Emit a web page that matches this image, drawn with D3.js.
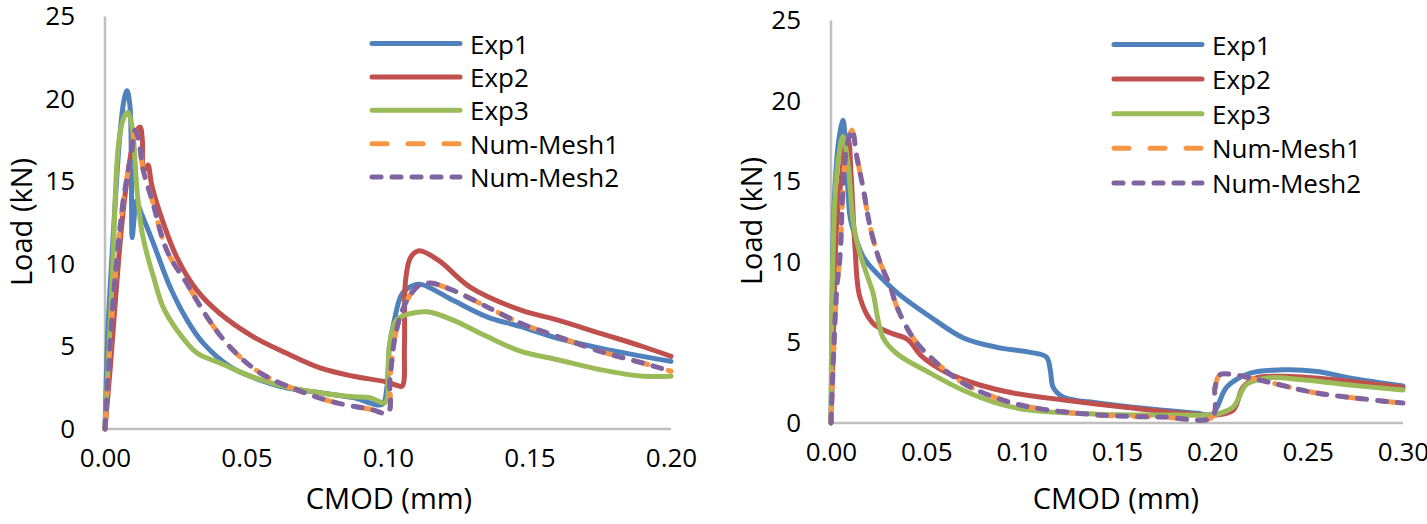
<!DOCTYPE html>
<html><head><meta charset="utf-8">
<script src="https://cdn.jsdelivr.net/npm/d3@7"></script>
<style>
html,body{margin:0;padding:0;background:#fff;}
svg{display:block;}
text{font-family:"Open Sans",sans-serif;fill:#000;}
</style></head>
<body>
<svg id="c" width="1427" height="524"></svg>
<script>
// ---------- DATA ----------
const seriesNames = ["Exp1","Exp2","Exp3","Num-Mesh1","Num-Mesh2"];
const yTicks = [0,5,10,15,20,25];
const xTicksLeft = [0,0.05,0.10,0.15,0.20];
const xTicksRight = [0,0.05,0.10,0.15,0.20,0.25,0.30];

const leftExp1 = [[0,0],[0.001,5.8],[0.003,12],[0.0053,17.9],[0.0068,20.0],[0.0078,20.5],[0.0088,19.6],[0.0093,16.5],[0.0096,11.6],[0.0102,12.6],[0.0110,13.8],[0.013,13.0],[0.017,11.3],[0.023,8.6],[0.029,6.6],[0.0347,5.2],[0.044,3.8],[0.052,3.15],[0.064,2.5],[0.076,2.2],[0.0877,1.9],[0.098,1.5],[0.0996,2.5],[0.1005,5.0],[0.102,6.4],[0.105,8.2],[0.109,8.7],[0.112,8.75],[0.123,7.8],[0.135,6.8],[0.147,6.2],[0.16,5.5],[0.175,4.9],[0.19,4.4],[0.2,4.1]];
const leftExp2 = [[0,0],[0.002,4],[0.004,8.5],[0.006,12.5],[0.0077,15],[0.0095,17],[0.011,18.0],[0.0124,18.3],[0.0132,17.5],[0.0136,15.7],[0.0145,15.8],[0.0152,16.0],[0.0165,14.8],[0.0194,13.1],[0.0254,10.4],[0.0325,8.4],[0.0406,7.0],[0.0523,5.6],[0.064,4.6],[0.076,3.7],[0.0877,3.2],[0.0995,2.85],[0.103,2.65],[0.105,2.6],[0.1058,5.0],[0.1062,9.0],[0.108,10.4],[0.111,10.8],[0.118,10.2],[0.129,8.6],[0.147,7.2],[0.16,6.6],[0.175,5.8],[0.19,5.0],[0.2,4.4]];
const leftExp3 = [[0,0],[0.001,3.5],[0.002,7],[0.003,11],[0.004,15.5],[0.005,17.6],[0.0065,18.8],[0.008,19.2],[0.0095,18.4],[0.0113,14.5],[0.013,12.0],[0.015,10.5],[0.017,9.3],[0.0205,7.4],[0.0254,6.0],[0.0325,4.6],[0.0406,4.0],[0.0523,3.15],[0.064,2.55],[0.076,2.2],[0.0877,1.95],[0.0936,1.9],[0.099,1.6],[0.1,3.5],[0.1005,5.0],[0.103,6.6],[0.108,7.0],[0.114,7.1],[0.123,6.6],[0.135,5.6],[0.147,4.7],[0.16,4.2],[0.175,3.6],[0.19,3.2],[0.2,3.2]];
const leftMesh1 = [[0,0],[0.0006,1.8],[0.0029,7.8],[0.0065,13.9],[0.0095,16.9],[0.0106,18.1],[0.0118,17.6],[0.0135,15.7],[0.0166,13.9],[0.0219,10.8],[0.029,8.8],[0.036,6.8],[0.044,5.0],[0.0548,3.4],[0.068,2.36],[0.0806,1.64],[0.0936,1.2],[0.1,1.0],[0.1007,3.0],[0.103,6.0],[0.1067,7.8],[0.111,8.7],[0.115,8.85],[0.123,8.4],[0.135,7.4],[0.147,6.4],[0.16,5.6],[0.175,4.7],[0.19,4.0],[0.2,3.5]];
const leftMesh2 = [[0,0],[0.0006,1.8],[0.0029,7.8],[0.0065,13.9],[0.0095,16.9],[0.0106,18.1],[0.0118,17.6],[0.0135,15.7],[0.0166,13.9],[0.0219,10.8],[0.029,8.8],[0.036,6.8],[0.044,5.0],[0.0548,3.4],[0.068,2.36],[0.0806,1.64],[0.0936,1.2],[0.1,1.0],[0.1007,3.0],[0.103,6.0],[0.1067,7.8],[0.111,8.7],[0.115,8.85],[0.123,8.4],[0.135,7.4],[0.147,6.4],[0.16,5.6],[0.175,4.7],[0.19,4.0],[0.2,3.5]];

const rightExp1 = [[0,0],[0.0005,6],[0.001,11],[0.002,14.5],[0.004,17.5],[0.0063,18.8],[0.0075,17.5],[0.0084,15.5],[0.01,12.8],[0.0117,12.0],[0.017,10.3],[0.0257,9.1],[0.0346,8.1],[0.052,6.6],[0.0692,5.3],[0.087,4.7],[0.104,4.4],[0.113,4.1],[0.115,3.3],[0.1166,2.2],[0.122,1.6],[0.14,1.24],[0.157,1.0],[0.174,0.8],[0.192,0.6],[0.2,0.55],[0.2077,2.25],[0.22,3.1],[0.237,3.3],[0.255,3.2],[0.272,2.8],[0.3,2.3]];
const rightExp2 = [[0,0],[0.001,4],[0.003,12.4],[0.0057,15.5],[0.0075,17.3],[0.009,17.6],[0.0105,15.5],[0.0126,10.9],[0.0152,7.8],[0.022,6.2],[0.031,5.6],[0.04,5.2],[0.048,4.1],[0.061,3.1],[0.078,2.36],[0.0955,1.86],[0.122,1.43],[0.158,0.93],[0.185,0.6],[0.202,0.5],[0.211,0.8],[0.216,2.2],[0.223,2.8],[0.237,2.9],[0.263,2.7],[0.3,2.2]];
const rightExp3 = [[0,0],[0.001,10.3],[0.003,15.5],[0.0063,17.8],[0.009,16],[0.0117,12.4],[0.015,10.6],[0.02,8.8],[0.022,8.1],[0.0273,5.3],[0.0346,4.3],[0.052,3.1],[0.069,2.05],[0.087,1.24],[0.104,0.8],[0.14,0.55],[0.174,0.5],[0.2,0.5],[0.2025,0.55],[0.211,1.0],[0.218,2.4],[0.229,2.8],[0.246,2.7],[0.272,2.36],[0.3,2.05]];
const rightMesh1 = [[0,0],[0.003,8.3],[0.0047,10.3],[0.0063,14.5],[0.0085,17.3],[0.011,18.2],[0.0136,16.5],[0.017,14.5],[0.0205,12.2],[0.0257,10.0],[0.031,8.5],[0.0346,7.2],[0.043,5.3],[0.052,4.1],[0.069,2.5],[0.087,1.55],[0.104,1.0],[0.14,0.5],[0.174,0.37],[0.2,0.37],[0.2014,2.2],[0.204,3.0],[0.211,3.0],[0.229,2.55],[0.255,1.86],[0.3,1.24]];
const rightMesh2 = [[0,0],[0.003,8.3],[0.0047,10.3],[0.0063,14.5],[0.0085,17.3],[0.011,18.2],[0.0136,16.5],[0.017,14.5],[0.0205,12.2],[0.0257,10.0],[0.031,8.5],[0.0346,7.2],[0.043,5.3],[0.052,4.1],[0.069,2.5],[0.087,1.55],[0.104,1.0],[0.14,0.5],[0.174,0.37],[0.2,0.37],[0.2014,2.2],[0.204,3.0],[0.211,3.0],[0.229,2.55],[0.255,1.86],[0.3,1.24]];

// ---------- STYLE ----------
const colors = ["#4F81BD","#C0504D","#9BBB59","#F79646","#8064A2"];
const dashes = [null,null,null,"15,21","9,11"];
const LW = 5;

const svg = d3.select("#c");

function drawChart(cfg){
  const g = svg.append("g");
  const x = d3.scaleLinear().domain(cfg.xDomain).range(cfg.xRange);
  const y = d3.scaleLinear().domain([0,25]).range(cfg.yRange);

  // axis lines
  g.append("line").attr("x1",x(0)).attr("x2",x(cfg.xDomain[1])).attr("y1",y(0)).attr("y2",y(0))
    .attr("stroke","#bfbfbf").attr("stroke-width",2.5);
  g.append("line").attr("x1",x(0)).attr("x2",x(0)).attr("y1",y(0)).attr("y2",y(25))
    .attr("stroke","#bfbfbf").attr("stroke-width",2.5);

  // y tick labels
  const ya = d3.axisLeft(y).tickValues(yTicks).tickSize(0).tickPadding(cfg.yPad).tickFormat(d3.format("d"));
  const yg = g.append("g").attr("transform",`translate(${x(0)},0)`).call(ya);
  yg.select(".domain").remove();
  yg.selectAll("text").style("font-family","'Open Sans',sans-serif").style("font-size","26px").attr("fill","#000");

  const xa = d3.axisBottom(x).tickValues(cfg.xTicks).tickSize(0).tickPadding(cfg.xPad).tickFormat(d3.format(".2f"));
  const xg = g.append("g").attr("transform",`translate(0,${y(0)})`).call(xa);
  xg.select(".domain").remove();
  xg.selectAll("text").style("font-family","'Open Sans',sans-serif").style("font-size","26px").attr("fill","#000");

  // axis titles
  g.append("text").attr("transform",`translate(${cfg.yTitleX},${cfg.yTitleY}) rotate(-90)`)
    .attr("text-anchor","middle").attr("dominant-baseline","central")
    .style("font-size","29px").text("Load (kN)");
  g.append("text").attr("x",cfg.xTitleX).attr("y",cfg.xTitleY)
    .attr("text-anchor","middle").attr("dominant-baseline","central")
    .style("font-size","29px").text("CMOD (mm)");

  const line = d3.line().x(d=>x(d[0])).y(d=>y(d[1])).curve(d3.curveCatmullRom.alpha(0.5));
  cfg.series.forEach((s,i)=>{
    g.append("path").datum(s).attr("d",line).attr("fill","none")
      .attr("stroke",colors[i]).attr("stroke-width",LW)
      .attr("stroke-linecap","round").attr("stroke-linejoin","round")
      .attr("stroke-dasharray",dashes[i]);
  });

  // legend
  const lg = g.append("g");
  seriesNames.forEach((n,i)=>{
    const yy = cfg.legY + i*cfg.legDy;
    lg.append("line").attr("x1",cfg.legX).attr("x2",cfg.legX+88).attr("y1",yy).attr("y2",yy)
      .attr("stroke",colors[i]).attr("stroke-width",LW).attr("stroke-linecap","round")
      .attr("stroke-dasharray",dashes[i]);
    lg.append("text").attr("x",cfg.legX+98).attr("y",yy).attr("dominant-baseline","central")
      .style("font-size","26px").text(n);
  });
}

drawChart({
  xDomain:[0,0.2], xRange:[105,671], yRange:[429,16.5], xTicks:xTicksLeft,
  yPad:30, xPad:20,
  yTitleX:20, yTitleY:222, xTitleX:389, xTitleY:497,
  series:[leftExp1,leftExp2,leftExp3,leftMesh1,leftMesh2],
  legX:372, legY:43.5, legDy:33.4
});
drawChart({
  xDomain:[0,0.3], xRange:[831,1403], yRange:[423,20.5], xTicks:xTicksRight,
  yPad:30, xPad:20,
  yTitleX:750, yTitleY:221, xTitleX:1116, xTitleY:497,
  series:[rightExp1,rightExp2,rightExp3,rightMesh1,rightMesh2],
  legX:1114, legY:44.5, legDy:34.6
});
</script>
</body></html>
